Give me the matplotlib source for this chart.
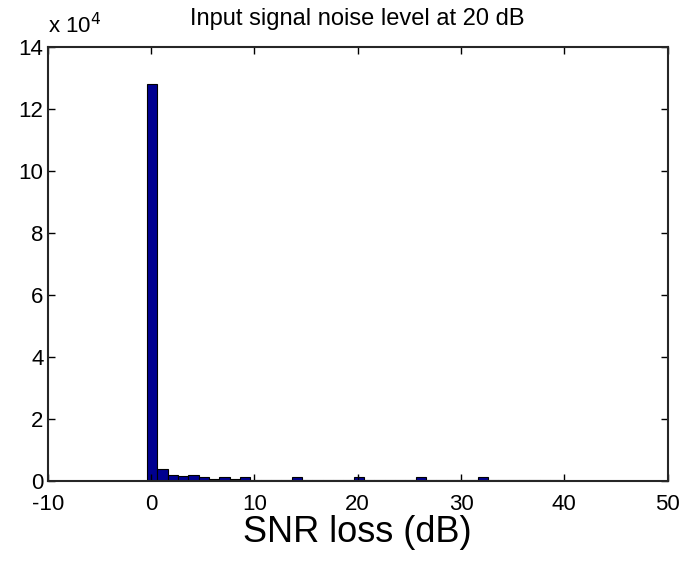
import matplotlib.pyplot as plt
import numpy as np
from matplotlib.ticker import FuncFormatter

plt.rcParams['font.family'] = ['Liberation Sans', 'DejaVu Sans']
plt.rcParams['axes.unicode_minus'] = False

# histogram of SNR loss, bin centres (dB) and counts
bin_centers = np.arange(0, 40) + 0.1
counts = np.array([128000, 4000, 2000, 1500, 2000, 1300, 700, 1300, 700, 1300,
                   500, 500, 500, 500, 1300, 500, 500, 500, 500, 500,
                   1300, 400, 400, 400, 400, 400, 1300, 400, 400, 400,
                   400, 400, 1300, 400, 400, 400, 400, 400, 400, 400])

xticks = [-10, 0, 10, 20, 30, 40, 50]
yticks = [0, 20000, 40000, 60000, 80000, 100000, 120000, 140000]

fig = plt.figure(figsize=(6.82, 5.64), dpi=100)
ax = fig.add_axes([0.070, 0.147, 0.909, 0.770])

ax.bar(bin_centers, counts, width=1.0, color='#000090', edgecolor='black', linewidth=0.8)

ax.set_xlim(-10, 50)
ax.set_ylim(0, 140000)
ax.set_xticks(xticks)
ax.set_yticks(yticks)
ax.yaxis.set_major_formatter(FuncFormatter(lambda v, p: '%d' % round(v / 1e4)))
ax.tick_params(direction='in', length=5, width=1, top=True, right=True, labelsize=16)
ax.tick_params(axis='x', pad=9)
ax.tick_params(axis='y', pad=3)
for s in ax.spines.values():
    s.set_linewidth(1.5)
    s.set_color('#262626')

ax.text(0.0, 1.02, r'x 10$^4$', transform=ax.transAxes, fontsize=16, ha='left', va='bottom')
ax.set_title('Input signal noise level at 20 dB', fontsize=17, pad=16)
ax.set_xlabel('SNR loss (dB)', fontsize=26, labelpad=0)

fig.savefig('out.png', dpi=100)
